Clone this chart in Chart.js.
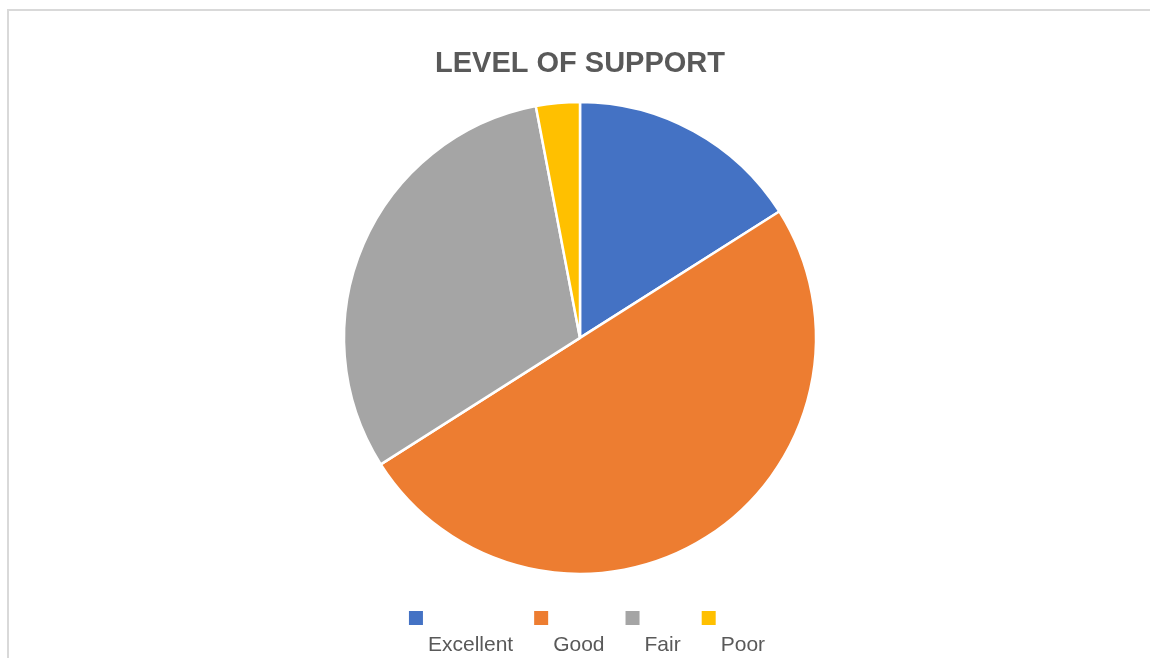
<!DOCTYPE html>
<html>
<head>
<meta charset="utf-8">
<script src="https://cdn.jsdelivr.net/npm/chart.js@4"></script>
<style>
    body { margin: 0; background: #fff; overflow: hidden; }
    #frame {
        position: absolute; left: 7px; top: 9px; width: 1200px; height: 700px;
        border-left: 2px solid #d9d9d9; border-top: 2px solid #d9d9d9;
    }
    #wrap { position: absolute; left: 0; top: 0; width: 1150px; height: 658px; }
</style>
</head>
<body>
<div id="frame"></div>
<div id="wrap"><canvas id="myChart" width="1150" height="658"></canvas></div>
<script>

const categories = ['Excellent', 'Good', 'Fair', 'Poor'];
const supportValues = [16, 50, 31, 3];
const sliceColors = ['#4472C4', '#ED7D31', '#A5A5A5', '#FFC000'];

// legend in two rows: colour box on top, label underneath and a bit to the right
const wrappedLegend = {
    id: 'wrappedLegend',
    afterDraw(chart){
        const ctx = chart.ctx;
        ctx.save();
        ctx.font = '21px "Liberation Sans", Arial, sans-serif';
        const box = 14, indent = 19, gap = 21;
        const widths = categories.map(c => indent + ctx.measureText(c).width);
        const total = widths.reduce((a, b) => a + b, 0) + gap * (categories.length - 1);
        let x = 587 - total / 2;
        categories.forEach((c, i) => {
            ctx.fillStyle = sliceColors[i];
            ctx.fillRect(x, 611, box, box);
            ctx.fillStyle = '#595959';
            ctx.textBaseline = 'alphabetic';
            ctx.fillText(c, x + indent, 651);
            x += widths[i] + gap;
        });
        ctx.restore();
    }
};

function createChart(){
    const ctx = document.getElementById('myChart').getContext('2d');
    const myChart = new Chart(ctx, {
        type: 'pie',
        data: {
            labels: categories,
            datasets: [{
                data: supportValues,
                backgroundColor: sliceColors,
                borderColor: '#ffffff',
                borderWidth: 2.5
            }]
        },
        options: {
            responsive: false,
            animation: false,
            radius: 236,
            layout: {
                padding: { left: 10, right: 0, top: 0, bottom: 81 }
            },
            plugins: {
                legend: { display: false },
                tooltip: { enabled: false },
                title: {
                    display: true,
                    text: 'LEVEL OF SUPPORT',
                    color: '#595959',
                    font: { family: '"Liberation Sans", Arial, sans-serif', size: 29, weight: 'bold', lineHeight: 1.2 },
                    padding: { top: 47, bottom: 17 }
                }
            }
        },
        plugins: [wrappedLegend]
    });
}

createChart()
</script>
</body>
</html>
